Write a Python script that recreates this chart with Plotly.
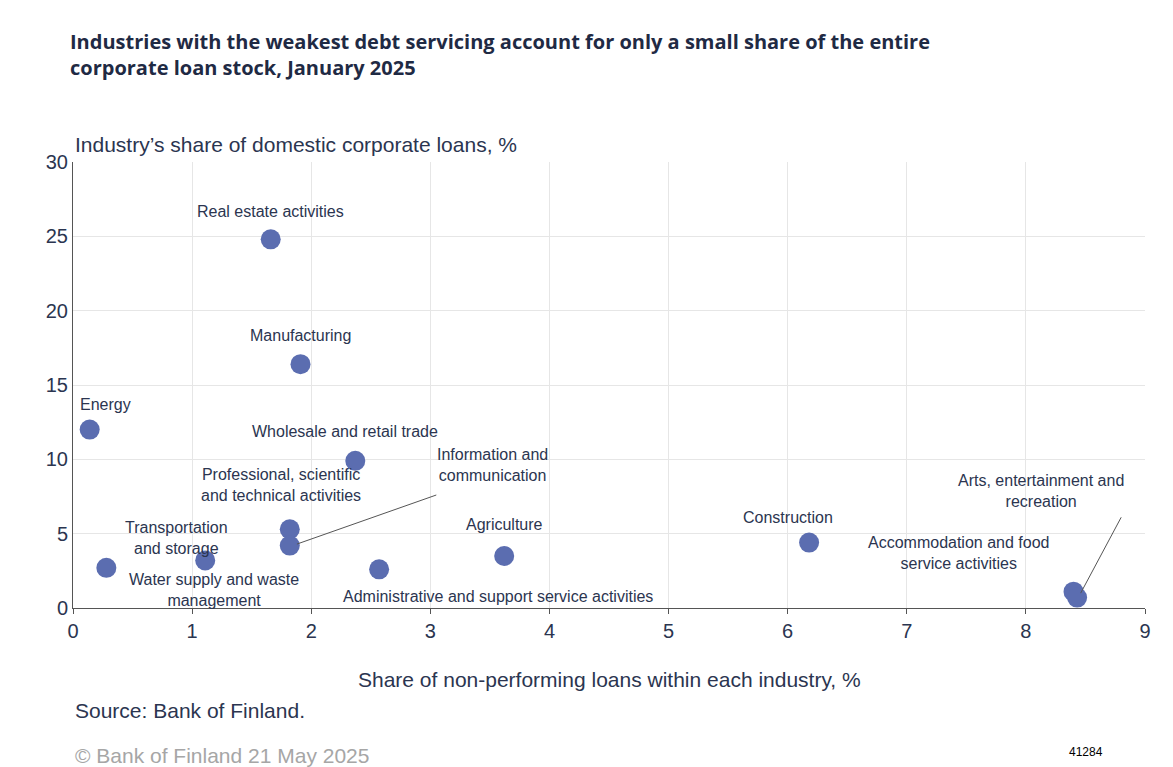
import plotly.graph_objects as go

names = ["Real estate activities","Manufacturing","Energy","Wholesale and retail trade",
         "Professional, scientific<br>and technical activities","Information and<br>communication",
         "Transportation<br>and storage","Water supply and waste<br>management",
         "Administrative and support service activities","Agriculture","Construction",
         "Accommodation and food<br>service activities","Arts, entertainment and<br>recreation"]
npl = [1.66,1.91,0.14,2.37,1.82,1.82,1.11,0.28,2.57,3.62,6.18,8.40,8.43]
share = [24.8,16.4,12.0,9.9,5.3,4.2,3.2,2.7,2.6,3.5,4.4,1.1,0.7]
# label positions (data coords)
lx = [1.66,1.91,0.27,2.28,1.75,3.52,0.87,1.18,3.57,3.62,6.0,7.43,8.13]
ly = [26.7,18.3,13.7,11.9,8.3,9.6,4.7,1.2,0.75,5.6,6.1,3.7,7.9]

fig = go.Figure(go.Scatter(x=npl, y=share, mode="markers",
    marker=dict(size=20, color="#5b6db0"), hoverinfo="skip"))

for i,(n,x,y) in enumerate(zip(names,lx,ly)):
    fig.add_annotation(x=x, y=y, text=n, showarrow=False, font=dict(size=16, color="#2b3550"),
                       xanchor="center", yanchor="middle")
# leader lines
fig.add_shape(type="line", x0=npl[5]+0.06, y0=share[5]+0.1, x1=3.05, y1=7.6, line=dict(color="#555", width=1))
fig.add_shape(type="line", x0=npl[12]+0.03, y0=share[12]+0.3, x1=8.8, y1=6.1, line=dict(color="#555", width=1))

fig.update_layout(
    width=1173, height=767, plot_bgcolor="white", paper_bgcolor="white",
    margin=dict(l=65, r=36, t=154, b=167, autoexpand=False), showlegend=False,
    font=dict(family="Liberation Sans, Arial", color="#2b3550"),
    xaxis=dict(range=[0,9], dtick=1, showgrid=True, gridcolor="#e6e6e6", zeroline=False,
               showline=True, linecolor="#555", ticks="outside", ticklen=5, tickcolor="#555",
               tickfont=dict(size=20, color="#2b3550")),
    yaxis=dict(range=[0,30], dtick=5, showgrid=True, gridcolor="#e6e6e6", zeroline=False,
               showline=True, linecolor="#555", tickfont=dict(size=20, color="#2b3550")),
)
fig.add_annotation(xref="paper", yref="paper", x=-0.0, y=1.04, xanchor="left", yanchor="middle",
    text="Industry’s share of domestic corporate loans, %", showarrow=False, font=dict(size=21))
fig.add_annotation(xref="paper", yref="paper", x=0.5, y=-0.161, xanchor="center", yanchor="middle",
    text="Share of non-performing loans within each industry, %", showarrow=False, font=dict(size=21))
fig.add_annotation(xref="paper", yref="paper", x=0.0, y=-0.229, xanchor="left", yanchor="middle",
    text="Source: Bank of Finland.", showarrow=False, font=dict(size=21))
fig.add_annotation(xref="paper", yref="paper", x=-0.0, y=-0.33, xanchor="left", yanchor="middle",
    text="© Bank of Finland 21 May 2025", showarrow=False, font=dict(size=21, color="#a6a6a6"))
fig.add_annotation(xref="paper", yref="paper", x=0.945, y=-0.323, xanchor="center", yanchor="middle",
    text="41284", showarrow=False, font=dict(size=12, color="#000"))
fig.add_annotation(xref="paper", yref="paper", x=-0.005, y=1.305, xanchor="left", yanchor="top", align="left",
    text="<b>Industries with the weakest debt servicing account for only a small share of the entire<br>corporate loan stock, January 2025</b>",
    showarrow=False, font=dict(size=20, color="#1f2a44", family="Open Sans, Liberation Sans"))
fig.write_html("out.html")
